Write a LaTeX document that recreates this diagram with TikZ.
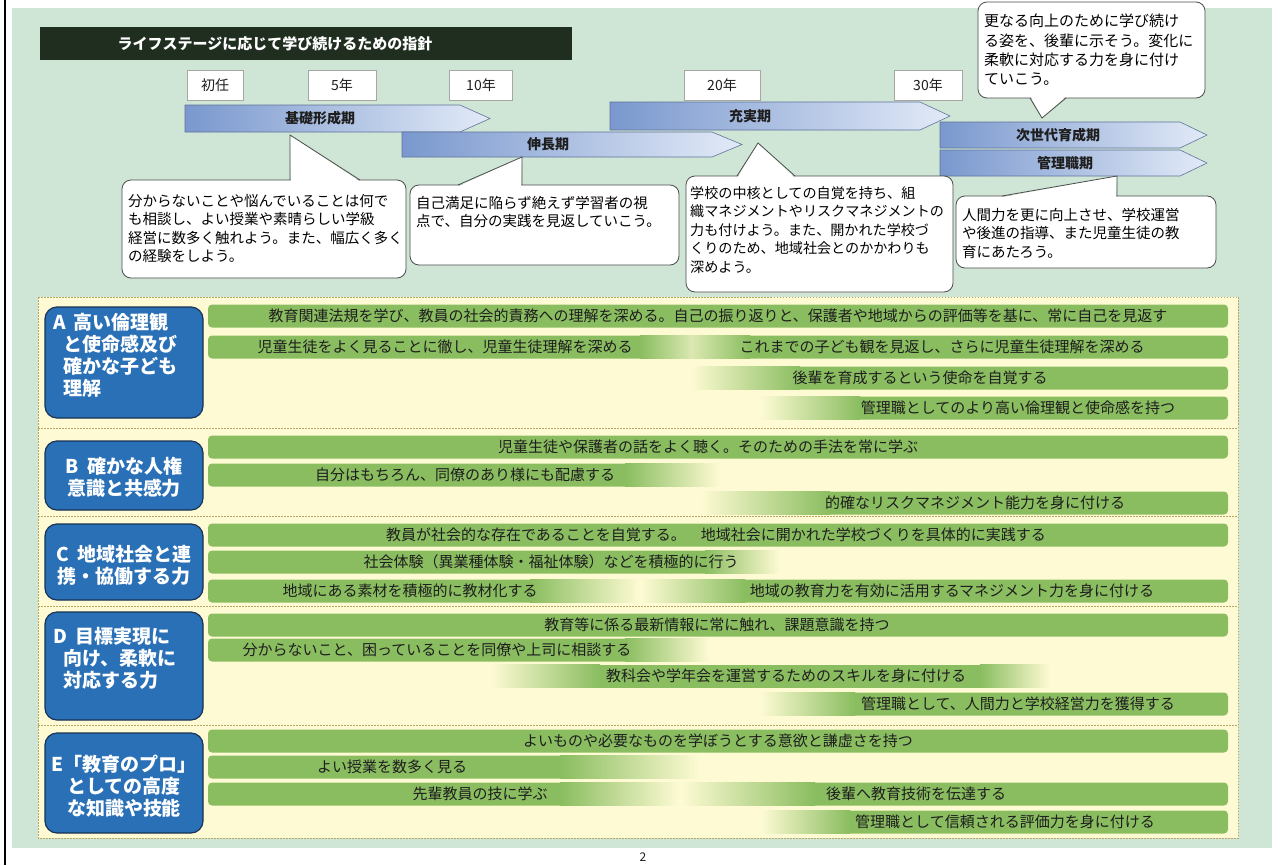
\documentclass[tikz,border=0pt]{standalone}
\usepackage{fontspec}
\setmainfont{Noto Sans CJK JP}
\definecolor{mint}{RGB}{207,229,214}
\definecolor{cream}{RGB}{254,251,212}
\definecolor{dotc}{RGB}{185,165,100}
\definecolor{titlebg}{RGB}{32,46,32}
\definecolor{arrL}{RGB}{122,152,206}
\definecolor{arrR}{RGB}{226,234,247}
\definecolor{arrB}{RGB}{95,115,155}
\definecolor{boxblue}{RGB}{42,112,182}
\definecolor{boxline}{RGB}{25,50,85}
\definecolor{gA}{RGB}{138,189,96}
\definecolor{gB}{RGB}{182,216,140}
\definecolor{txt}{RGB}{30,30,30}
\colorlet{gM}{gA!30!cream}
\newcommand\barfull[1]{\shade[rounded corners=4, left color=gA, middle color=gB, right color=gA] (208,#1-11.5) rectangle (1228,#1+11.5);}
\newcommand\barin[3]{\fill[gA, rounded corners=4] (#3-8,#1-11.5) rectangle (1228,#1+11.5);
 \shade[left color=cream, right color=gA] (#2,#1-11.5) rectangle (#3,#1+11.5);}
\newcommand\barout[3]{\fill[gA, rounded corners=4] (208,#1-11.5) rectangle (#2+8,#1+11.5);
 \shade[left color=gA, right color=cream] (#2,#1-11.5) rectangle (#3,#1+11.5);}
\newcommand\barmid[5]{\fill[gA] (#3-1,#1-11.5) rectangle (#4+1,#1+11.5);
 \shade[left color=cream, right color=gA] (#2,#1-11.5) rectangle (#3,#1+11.5);
 \shade[left color=gA, right color=cream] (#4,#1-11.5) rectangle (#5,#1+11.5);}
% two bars joined by a pale dip: y, dip start, dip middle, dip end
\newcommand\bardip[4]{\fill[gA, rounded corners=4] (208,#1-11.5) rectangle (1228,#1+11.5);
 \shade[left color=gA, right color=gM] (#2,#1-11.5) rectangle (#3,#1+11.5);
 \shade[left color=gM, right color=gA] (#3-0.3,#1-11.5) rectangle (#4,#1+11.5);}
\begin{document}
\begin{tikzpicture}[x=1pt,y=-1pt,
  yearbox/.style={draw=gray!70, fill=white, minimum height=30, inner sep=0, font=\fontsize{14}{14}\selectfont, text=txt},
  stagearr/.style={draw=arrB, line width=0.6, left color=arrL, right color=arrR},
  stagetxt/.style={font=\bfseries\fontsize{14}{14}\selectfont, text=txt, inner sep=0},
  bubble/.style={draw=gray!60!black, fill=white, rounded corners=9, line width=0.8},
  bline/.style={draw=gray!60!black, line width=0.8},
  btext/.style={font=\fontsize{14.5}{18.5}\selectfont, align=left, inner sep=0, anchor=north west, text=black},
  bluebox/.style={draw=boxline, line width=1.2, fill=boxblue, rounded corners=12, inner sep=0},
  boxtext/.style={font=\bfseries\fontsize{19}{22}\selectfont, text=white, inner sep=0},
  bartext/.style={font=\fontsize{15}{15}\selectfont, text=txt, inner sep=0},
  dotline/.style={draw=dotc, line width=1, dash pattern=on 1.5pt off 1.5pt}]
\useasboundingbox (0,0) rectangle (1280,865);
\fill[white] (0,0) rectangle (1280,865);
\fill[mint] (12,8) rectangle (1272,848);
\draw[black, line width=2] (5,0) -- (5,865);
% title
\node[fill=titlebg, minimum width=532, minimum height=33, inner sep=0] (titlebar) at (306,43.5) {};
\node[font=\bfseries\fontsize{15}{15}\selectfont, text=white, inner sep=0] (title) at (275,43.5) {ライフステージに応じて学び続けるための指針};
% year boxes
\node[yearbox, minimum width=56] (y0) at (215,85) {初任};
\node[yearbox, minimum width=68] (y5) at (342,85) {5年};
\node[yearbox, minimum width=63] (y10) at (481,85) {10年};
\node[yearbox, minimum width=76] (y20) at (722,85) {20年};
\node[yearbox, minimum width=68] (y30) at (928,85) {30年};
% stage arrows
\draw[stagearr] (185,105) -- (460,105) -- (490,118.5) -- (460,132) -- (185,132) -- cycle;
\node[stagetxt] (kiso) at (320,118.5) {基礎形成期};
\draw[stagearr] (402,132) -- (712,132) -- (742,144.5) -- (712,157) -- (402,157) -- cycle;
\node[stagetxt] (shincho) at (548,144.5) {伸長期};
\draw[stagearr] (610,102) -- (920,102) -- (950,116) -- (920,130) -- (610,130) -- cycle;
\node[stagetxt] (juji) at (750,116) {充実期};
\draw[stagearr] (940,122) -- (1180,122) -- (1207,135) -- (1180,148) -- (940,148) -- cycle;
\node[stagetxt] (jisedai) at (1058,135) {次世代育成期};
\draw[stagearr] (940,150) -- (1180,150) -- (1207,163) -- (1180,176) -- (940,176) -- cycle;
\node[stagetxt] (kanri) at (1065,163) {管理職期};
% bubble top right
\draw[bubble] (978,2) rectangle (1205,98);
\fill[white] (1031,97) -- (1042,118) -- (1065,97) -- cycle;
\draw[bline] (1030,98) -- (1042,118) -- (1066,98);
\node[btext, font=\fontsize{15}{19.3}\selectfont] (bt0) at (984,14) {更なる向上のために学び続け\\る姿を、後輩に示そう。変化に\\柔軟に対応する力を身に付け\\ていこう。};
% bubble 1
\draw[bubble] (122,180) rectangle (406,278);
\fill[white] (291,181) -- (290,135) -- (359,181) -- cycle;
\draw[bline] (290,180) -- (290,135) -- (360,180);
\node[btext] (bt1) at (128,194) {分からないことや悩んでいることは何で\\も相談し、よい授業や素晴らしい学級\\経営に数多く触れよう。また、幅広く多く\\の経験をしよう。};
% bubble 2
\draw[bubble] (410,185) rectangle (679,265);
\fill[white] (459,186) -- (522,157) -- (521,186) -- cycle;
\draw[bline] (458,185) -- (522,157) -- (522,185);
\node[btext] (bt2) at (416,196) {自己満足に陥らず絶えず学習者の視\\点で、自分の実践を見返していこう。};
% bubble 3
\draw[bubble] (686,176) rectangle (953,292);
\fill[white] (738,177) -- (758,143) -- (794,177) -- cycle;
\draw[bline] (737,176) -- (758,143) -- (795,176);
\node[btext, font=\fontsize{14.1}{18.5}\selectfont] (bt3) at (690,186) {学校の中核としての自覚を持ち、組\\織マネジメントやリスクマネジメントの\\力も付けよう。また、開かれた学校づ\\くりのため、地域社会とのかかわりも\\深めよう。};
% bubble 4
\draw[bubble] (956,196) rectangle (1216,268);
\fill[white] (1003,197) -- (1117,176) -- (1116,197) -- cycle;
\draw[bline] (1002,196) -- (1117,176) -- (1117,196);
\node[btext] (bt4) at (962,208) {人間力を更に向上させ、学校運営\\や後進の指導、また児童生徒の教\\育にあたろう。};
% main panel
\fill[cream] (38,297) rectangle (1238,838);
\draw[dotline] (38,297) rectangle (1238,838);
\draw[dotline] (38,428) -- (1238,428);
\draw[dotline] (38,516) -- (1238,516);
\draw[dotline] (38,606) -- (1238,606);
\draw[dotline] (38,725) -- (1238,725);
% blue boxes
\node[bluebox, minimum width=158, minimum height=111] (boxA) at (124,362.5) {};
\node[bluebox, minimum width=158, minimum height=69] (boxB) at (124,475.5) {};
\node[bluebox, minimum width=158, minimum height=76] (boxC) at (124,562) {};
\node[bluebox, minimum width=158, minimum height=108] (boxD) at (124,666) {};
\node[bluebox, minimum width=158, minimum height=100] (boxE) at (124,783) {};
\node[boxtext, align=left, anchor=north west] (tA) at (53,313) {A\hspace{8pt}高い倫理観\\\hspace{10pt}と使命感及び\\\hspace{10pt}確かな子ども\\\hspace{10pt}理解};
\node[boxtext, align=center] (tB) at (124,477) {B\hspace{8pt}確かな人権\\意識と共感力};
\node[boxtext, align=center] (tC) at (124,565) {C\hspace{8pt}地域社会と連\\携・協働する力};
\node[boxtext, align=left, anchor=north west] (tD) at (53,627) {D\hspace{8pt}目標実現に\\\hspace{10pt}向け、柔軟に\\\hspace{10pt}対応する力};
\node[boxtext, align=center] (tE) at (124,786) {E「教育のプロ」\\としての高度\\な知識や技能};
% section A bars
\barfull{316}
\node[bartext] (a1) at (718,316) {教育関連法規を学び、教員の社会的責務への理解を深める。自己の振り返りと、保護者や地域からの評価等を基に、常に自己を見返す};
\bardip{347}{640}{692}{750}
\node[bartext] (a2l) at (445,347) {児童生徒をよく見ることに徹し、児童生徒理解を深める};
\node[bartext] (a2r) at (942,347) {これまでの子ども観を見返し、さらに児童生徒理解を深める};
\barin{378}{690}{800}
\node[bartext] (a3) at (920,378) {後輩を育成するという使命を自覚する};
\barin{408}{760}{860}
\node[bartext] (a4) at (1018,408) {管理職としてのより高い倫理観と使命感を持つ};
% section B bars
\barfull{447}
\node[bartext] (b1) at (708,447) {児童生徒や保護者の話をよく聴く。そのための手法を常に学ぶ};
\barout{475}{625}{720}
\node[bartext] (b2) at (465,475) {自分はもちろん、同僚のあり様にも配慮する};
\barin{503}{700}{830}
\node[bartext] (b3) at (975,503) {的確なリスクマネジメント能力を身に付ける};
% section C bars
\barfull{535}
\node[bartext] (c1) at (716,535) {教員が社会的な存在であることを自覚する。　地域社会に開かれた学校づくりを具体的に実践する};
\barout{562}{705}{780}
\node[bartext] (c2) at (551,562) {社会体験（異業種体験・福祉体験）などを積極的に行う};
\barout{591}{530}{640}
\barin{591}{640}{745}
\node[bartext] (c3l) at (410,591) {地域にある素材を積極的に教材化する};
\node[bartext] (c3r) at (952,591) {地域の教育力を有効に活用するマネジメント力を身に付ける};
% section D bars
\barfull{625}
\node[bartext] (d1) at (717,625) {教育等に係る最新情報に常に触れ、課題意識を持つ};
\barout{650}{625}{710}
\node[bartext] (d2) at (437,650) {分からないこと、困っていることを同僚や上司に相談する};
\barmid{676}{490}{600}{980}{1050}
\node[bartext] (d3) at (786,676) {教科会や学年会を運営するためのスキルを身に付ける};
\barin{704}{760}{855}
\node[bartext] (d4) at (1018,704) {管理職として、人間力と学校経営力を獲得する};
% section E bars
\barfull{741}
\node[bartext] (e1) at (718,741) {よいものや必要なものを学ぼうとする意欲と謙虚さを持つ};
\barout{767}{560}{700}
\node[bartext] (e2) at (392,767) {よい授業を数多く見る};
\fill[cream] (208,782.5) rectangle (1228,805.5);
\barout{794}{560}{680}
\barin{794}{680}{815}
\node[bartext] (e3l) at (480,794) {先輩教員の技に学ぶ};
\node[bartext] (e3r) at (916,794) {後輩へ教育技術を伝達する};
\barin{822}{760}{850}
\node[bartext] (e4) at (1005,822) {管理職として信頼される評価力を身に付ける};
% page number
\node[font=\fontsize{12}{12}\selectfont, text=txt, inner sep=0] (pnum) at (643,857) {2};
\end{tikzpicture}
\end{document}
